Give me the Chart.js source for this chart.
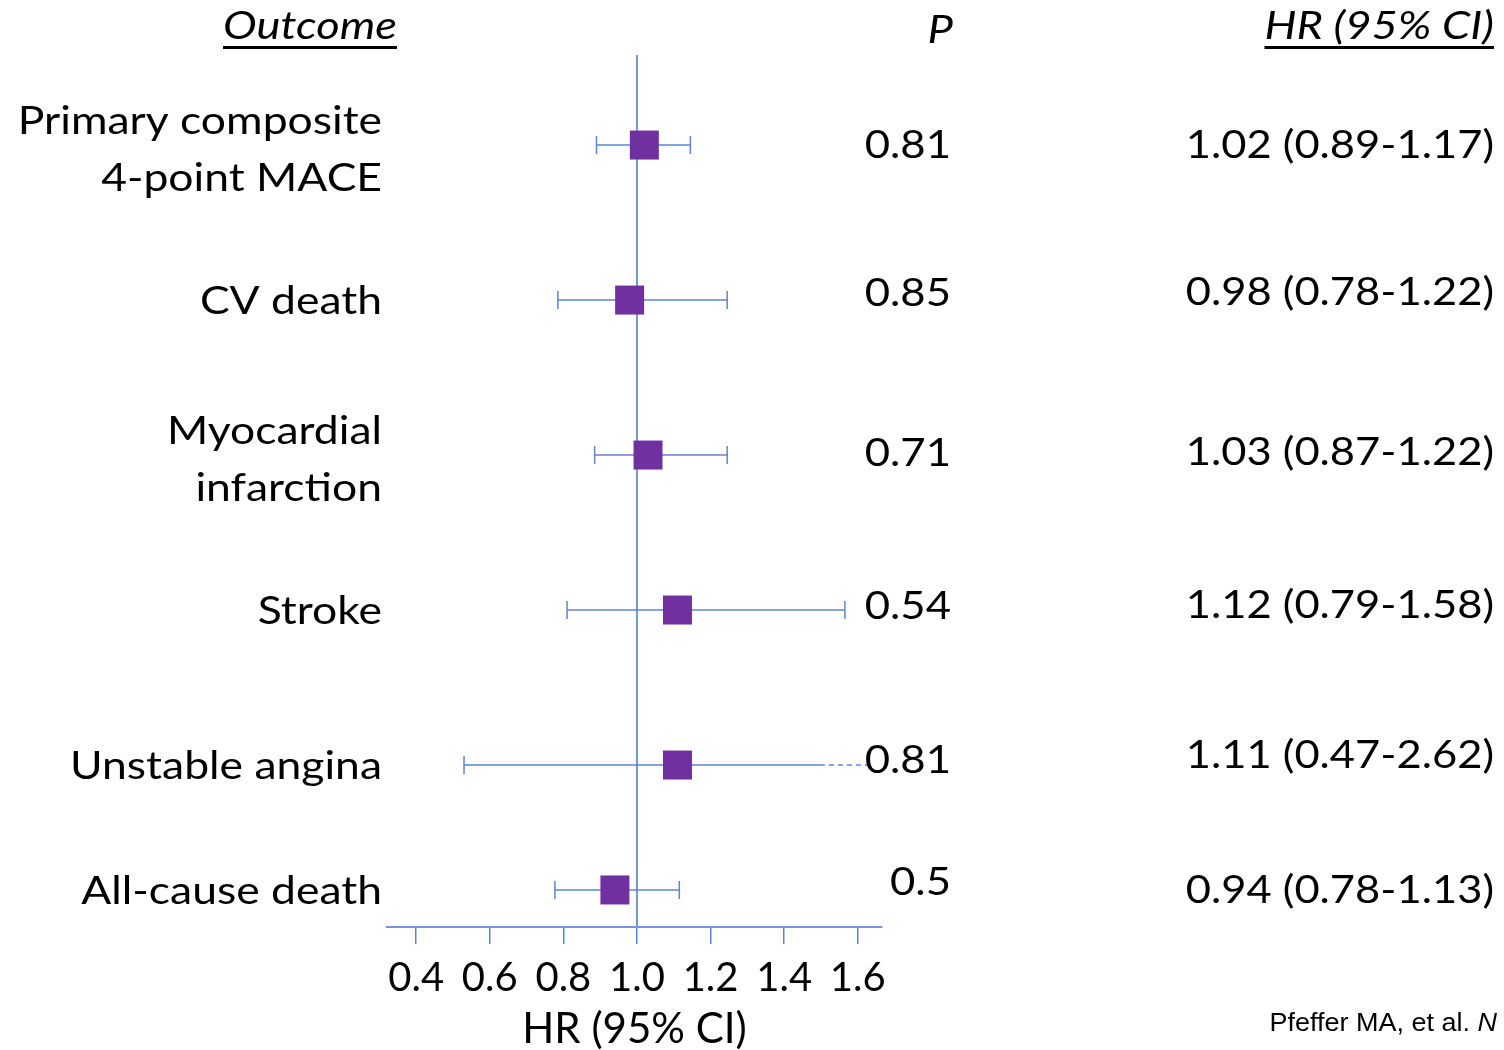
<!DOCTYPE html>
<html><head><meta charset="utf-8">
<script src="https://cdn.jsdelivr.net/npm/chart.js@4/dist/chart.umd.min.js"></script>
<style>html,body{margin:0;padding:0;background:#fff}#wrap{width:1504px;height:1050px;position:relative}</style>
</head><body><div id="wrap"><canvas id="c" width="1504" height="1050"></canvas></div>
<script>
// ---- data ----
const outcomes = [["Primary composite","4-point MACE"],["CV death"],["Myocardial","infarction"],["Stroke"],["Unstable angina"],["All-cause death"]];
const hr = [1.02, 0.98, 1.03, 1.11, 1.11, 0.94];
const ciLow = [0.89, 0.785, 0.885, 0.81, 0.53, 0.777];
const ciHigh = [1.145, 1.245, 1.245, 1.565, 1.633, 1.115];
const truncatedAt = [null, null, null, null, 1.497, null];
const pValues = ["0.81","0.85","0.71","0.54","0.81","0.5"];
const hrLabels = ["1.02 (0.89-1.17)","0.98 (0.78-1.22)","1.03 (0.87-1.22)","1.12 (0.79-1.58)","1.11 (0.47-2.62)","0.94 (0.78-1.13)"];
const xTicks = [0.4, 0.6, 0.8, 1.0, 1.2, 1.4, 1.6];
const refValue = 1.0;

// ---- layout ----
const rowPos = [1, 2, 3, 4, 5, 5.806];
const yTop = 0.419, yBottom = 6.045;
const FONT = 'Lato, "Open Sans", sans-serif';
const LINE = '#5B84D4';
const PURPLE = '#7030A0';

const datasets = [];
datasets.push({
  label: 'hr', data: hr.map((v,i)=>({x:v, y:rowPos[i]})),
  pointStyle: 'rect', pointRadius: 20.5, pointHoverRadius: 20.5,
  backgroundColor: PURPLE, borderColor: PURPLE, pointBorderWidth: 0,
  showLine: false, order: 0
});
hr.forEach((v,i)=>{
  const t = truncatedAt[i];
  const pts = t ? [{x:ciLow[i],y:rowPos[i]},{x:t,y:rowPos[i]},{x:ciHigh[i],y:rowPos[i]}]
                : [{x:ciLow[i],y:rowPos[i]},{x:ciHigh[i],y:rowPos[i]}];
  datasets.push({
    label: 'ci'+i, data: pts, showLine: true,
    borderColor: LINE, borderWidth: 1.5,
    pointStyle: 'line', rotation: 90,
    pointRadius: t ? [9,0,0] : 9, pointHoverRadius: t ? [9,0,0] : 9,
    pointBorderColor: LINE, pointBorderWidth: 1.5,
    segment: { borderDash: ctx => (t && ctx.p0DataIndex === 1) ? [5,4] : undefined },
    order: 1
  });
});
datasets.push({
  label: 'ref', data: [{x:refValue,y:yTop},{x:refValue,y:yBottom}],
  showLine: true, borderColor: '#7397DA', borderWidth: 2, pointRadius: 0, order: 2
});

function drawText(ctx, txt, x, y, align, sx) {
  ctx.save();
  ctx.translate(x, y);
  ctx.scale(sx, 1);
  ctx.textAlign = align;
  ctx.fillText(txt, 0, 0);
  const w = ctx.measureText(txt).width * sx;
  ctx.restore();
  return w;
}

const textPlugin = {
  id: 'texts',
  afterDraw(chart) {
    const ctx = chart.ctx, y = chart.scales.y;
    ctx.save();
    ctx.fillStyle = '#000';
    ctx.textBaseline = 'middle';
    // headers
    ctx.font = 'italic 39px ' + FONT;
    const hdr = (txt, x, yy, align, underline) => {
      const w = drawText(ctx, txt, x, yy, align, 1.16);
      if (underline) {
        const x0 = align === 'center' ? x - w/2 : (align === 'right' ? x - w : x);
        ctx.fillRect(x0, 46, w, 3);
      }
    };
    hdr('Outcome', 310, 26, 'center', true);
    hdr('P', 953, 30, 'right', false);
    hdr('HR (95% CI)', 1494, 26, 'right', true);
    // rows
    ctx.font = '39px ' + FONT;
    outcomes.forEach((lines, i) => {
      const yc = y.getPixelForValue(rowPos[i]);
      if (lines.length === 2) {
        drawText(ctx, lines[0], 382, yc - 24, 'right', 1.14);
        drawText(ctx, lines[1], 382, yc + 33, 'right', 1.14);
      } else {
        drawText(ctx, lines[0], 382, yc + 1, 'right', 1.14);
      }
      const pOff = [0,-7,-2,-4,-5,-8][i];
      drawText(ctx, pValues[i], 951, yc + pOff, 'right', 1.12);
      const hOff = [0,-8,-3,-5,-10,0][i];
      drawText(ctx, hrLabels[i], 1494, yc + hOff, 'right', 1.115);
    });
    // citation
    ctx.font = 'italic 25px "Liberation Sans", Arial, sans-serif';
    const nW = drawText(ctx, 'N', 1497, 1024, 'right', 1.08);
    ctx.font = '25px "Liberation Sans", Arial, sans-serif';
    drawText(ctx, 'Pfeffer MA, et al. ', 1497 - nW, 1024, 'right', 1.08);
    ctx.restore();
  }
};

new Chart(document.getElementById('c'), {
  type: 'scatter',
  data: { datasets },
  options: {
    responsive: false, animation: false,
    layout: { padding: { left: 387, right: 622, top: 55, bottom: 0 } },
    plugins: { legend: { display: false }, tooltip: { enabled: false } },
    scales: {
      x: {
        type: 'linear', min: 0.3207, max: 1.6658,
        afterBuildTicks: axis => { axis.ticks = xTicks.map(v => ({ value: v })); },
        afterFit: scale => { scale.height = 123; },
        grid: { drawOnChartArea: false, drawTicks: true, tickLength: 17, color: LINE, lineWidth: 1.5 },
        border: { display: true, color: '#7397DA', width: 2 },
        ticks: { font: { family: FONT, size: 40 }, color: '#000', padding: 10, callback: v => v.toFixed(1) },
        title: { display: true, text: 'HR (95% CI)', font: { family: FONT, size: 42, lineHeight: 1 }, color: '#000', padding: { top: 0, bottom: 0 } }
      },
      y: { type: 'linear', display: false, reverse: true, min: yTop, max: yBottom }
    }
  },
  plugins: [textPlugin]
});
</script>
</body></html>
